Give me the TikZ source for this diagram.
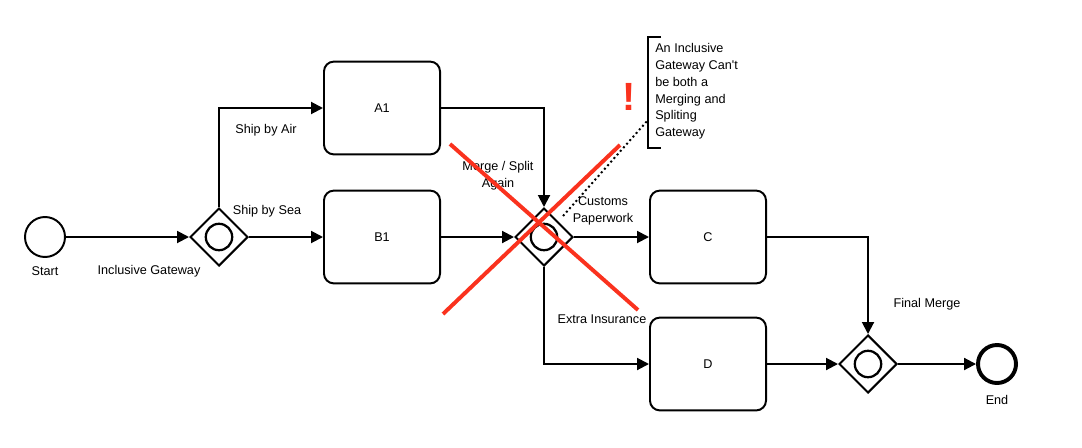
\documentclass[tikz,border=0pt]{standalone}
\usepackage{fontspec}
\setmainfont{Liberation Sans}
\usetikzlibrary{arrows.meta,shapes.geometric}

\definecolor{crossred}{RGB}{250,50,30}

\tikzset{
  event/.style={circle,draw,line width=1.4pt,minimum size=1cm,inner sep=0pt},
  endevent/.style={circle,draw,line width=2.8pt,minimum size=0.95cm,inner sep=0pt},
  task/.style={rectangle,rounded corners=7pt,draw,line width=1.4pt,
    minimum width=2.9cm,minimum height=2.32cm,inner sep=0pt},
  gateway/.style={diamond,draw,line width=1.4pt,minimum width=1.45cm,
    minimum height=1.45cm,inner sep=0pt,aspect=1},
  lbl/.style={font=\fontsize{9}{12}\selectfont,inner sep=1pt,align=center},
  flow/.style={line width=1.4pt,-{Triangle[length=8.5pt,width=8.5pt]}},
}

\begin{document}
\begin{tikzpicture}[x=0.025cm,y=-0.025cm]
        \useasboundingbox (0,0) rectangle (1082,447);

        % events
        \node[event] (start) at (45,237) {};
        \node[endevent] (end) at (997,364) {};

        % tasks
        \node[task] (a1) at (382,108) {\fontsize{9}{12}\selectfont A1};
        \node[task] (b1) at (382,237) {\fontsize{9}{12}\selectfont B1};
        \node[task] (c) at (708,237) {\fontsize{9}{12}\selectfont C};
        \node[task] (d) at (708,364) {\fontsize{9}{12}\selectfont D};

        % inclusive gateways
        \foreach \g/\x/\y in {gw1/219/237, gw2/544/237, gw3/868/364} {
                \node[gateway] (\g) at (\x,\y) {};
                \draw[line width=1.6pt] (\g.center) circle(0.33cm);
        }

        % sequence flows
        \draw[flow] (start) -- (gw1.west);
        \draw[flow] (gw1.north) |- (a1.west);
        \draw[flow] (gw1.east) -- (b1.west);
        \draw[flow] (a1.east) -| (gw2.north);
        \draw[flow] (b1.east) -- (gw2.west);
        \draw[flow] (gw2.east) -- (c.west);
        \draw[flow] (gw2.south) |- (d.west);
        \draw[flow] (c.east) -| (gw3.north);
        \draw[flow] (d.east) -- (gw3.west);
        \draw[flow] (gw3.east) -- (end.west);

        % labels
        \node[lbl] (startlbl) at (45,271) {Start};
        \node[lbl] (endlbl) at (997,400) {End};
        \node[lbl] (gw1lbl) at (149,271) {Inclusive Gateway};
        \node[lbl] (airlbl) at (266,130) {Ship by Air};
        \node[lbl] (sealbl) at (267,211) {Ship by Sea};
        \node[lbl] (gw2lbl) at (498,176) {Merge / Split\\Again};
        \node[lbl] (customslbl) at (603,211) {Customs\\Paperwork};
        \node[lbl] (insurlbl) at (602,319) {Extra Insurance};
        \node[lbl] (gw3lbl) at (927,304) {Final Merge};

        % annotation
        \node[lbl,align=left,anchor=north west,inner sep=0pt] (note) at (655,43)
                {An Inclusive\\Gateway Can\textquotesingle t\\be both a\\Merging and\\Spliting\\Gateway};
        \draw[line width=1.4pt] (661,37) -- (648,37) -- (648,148) -- (661,148);
        \coordinate (notehook) at (648,120);
        \coordinate (gwhook) at (563,216);
        \draw[line width=1.4pt,dotted] (gwhook) -- (notehook);

        % warning mark and cross
        \node[text=crossred,font=\fontsize{28}{30}\selectfont\bfseries] (warn) at (629,97) {!};
        \draw[crossred,line width=2.8pt] (450,144) -- (638,310);
        \draw[crossred,line width=2.8pt] (620,145) -- (443,314);
\end{tikzpicture}
\end{document}
